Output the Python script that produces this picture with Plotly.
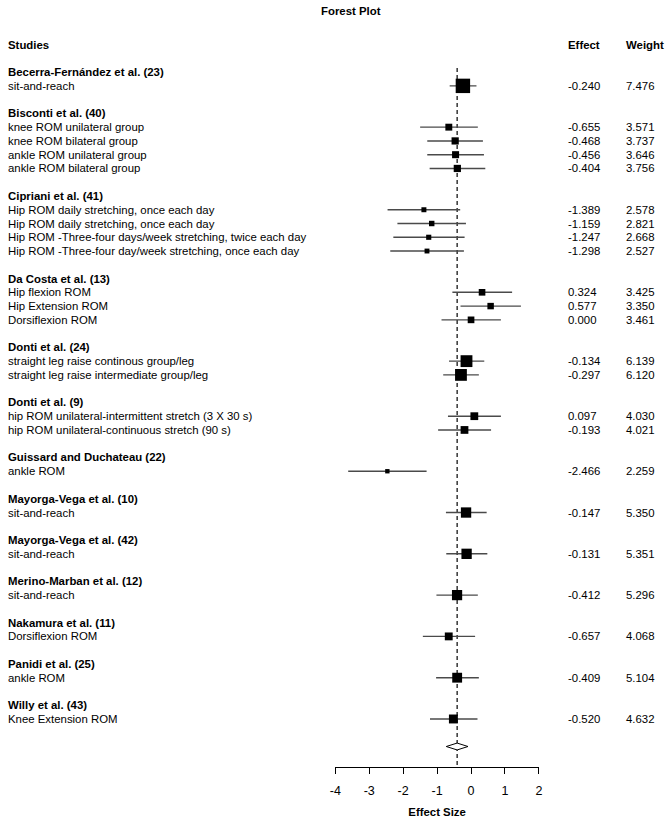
import plotly.graph_objects as go

# ---------------- data ----------------
studies = [
    "Becerra-Fernández et al. (23)", "Bisconti et al. (40)", "Cipriani et al. (41)",
    "Da Costa et al. (13)", "Donti et al. (24)", "Donti et al. (9)",
    "Guissard and Duchateau (22)", "Mayorga-Vega et al. (10)", "Mayorga-Vega et al. (42)",
    "Merino-Marban et al. (12)", "Nakamura et al. (11)", "Panidi et al. (25)", "Willy et al. (43)",
]
outcomes = [
    "sit-and-reach",
    "knee ROM unilateral group", "knee ROM bilateral group",
    "ankle ROM unilateral group", "ankle ROM bilateral group",
    "Hip ROM daily stretching, once each day", "Hip ROM daily stretching, once each day",
    "Hip ROM -Three-four days/week stretching, twice each day",
    "Hip ROM -Three-four day/week stretching, once each day",
    "Hip flexion ROM", "Hip Extension ROM", "Dorsiflexion ROM",
    "straight leg raise continous group/leg", "straight leg raise intermediate group/leg",
    "hip ROM unilateral-intermittent stretch (3 X 30 s)", "hip ROM unilateral-continuous stretch (90 s)",
    "ankle ROM", "sit-and-reach", "sit-and-reach", "sit-and-reach",
    "Dorsiflexion ROM", "ankle ROM", "Knee Extension ROM",
]
outcome_study = [0, 1, 1, 1, 1, 2, 2, 2, 2, 3, 3, 3, 4, 4, 5, 5, 6, 7, 8, 9, 10, 11, 12]
effects = [-0.240, -0.655, -0.468, -0.456, -0.404, -1.389, -1.159, -1.247, -1.298,
           0.324, 0.577, 0.000, -0.134, -0.297, 0.097, -0.193, -2.466, -0.147, -0.131,
           -0.412, -0.657, -0.409, -0.520]
lower = [-0.63, -1.50, -1.29, -1.29, -1.22, -2.46, -2.17, -2.29, -2.38,
         -0.55, -0.31, -0.87, -0.65, -0.82, -0.68, -0.97, -3.62, -0.74, -0.73,
         -1.02, -1.42, -1.03, -1.21]
upper = [0.16, 0.20, 0.35, 0.38, 0.42, -0.32, -0.15, -0.19, -0.21,
         1.21, 1.47, 0.88, 0.39, 0.23, 0.88, 0.59, -1.31, 0.46, 0.48,
         0.20, 0.12, 0.23, 0.19]
weights = [7.476, 3.571, 3.737, 3.646, 3.756, 2.578, 2.821, 2.668, 2.527,
           3.425, 3.350, 3.461, 6.139, 6.120, 4.030, 4.021, 2.259, 5.350, 5.351,
           5.296, 4.068, 5.104, 4.632]
summary_effect = -0.41
summary_lower = -0.73
summary_upper = -0.09
x_ticks = [-4, -3, -2, -1, 0, 1, 2]

# ---------------- layout of rows ----------------
header_rows = []
outcome_rows = []
r = 0
for si in range(len(studies)):
    header_rows.append(r)
    r += 1
    for oi, s in enumerate(outcome_study):
        if s == si:
            outcome_rows.append(r)
            r += 1
    r += 1
summary_row = r
axis_row = summary_row + 1.5

W, H = 669, 818
ROW0_PX, ROW_PX = 72.2, 13.78
y_top = -ROW0_PX / ROW_PX
y_bot = (H - ROW0_PX) / ROW_PX
axis_pos = 1 - (ROW0_PX + ROW_PX * axis_row) / H

FONT = "Liberation Sans, Arial, sans-serif"
FS = 11.4
TXT = "#000000"

fig = go.Figure()

# CI lines
ci_x, ci_y = [], []
for l, u, yy in zip(lower, upper, outcome_rows):
    ci_x += [l, u, None]
    ci_y += [yy, yy, None]
fig.add_trace(go.Scatter(
    x=ci_x, y=ci_y, mode="lines", line=dict(color="#4a4a4a", width=1.4),
    hoverinfo="skip", showlegend=False, cliponaxis=False,
))

# squares
fig.add_trace(go.Scatter(
    x=effects, y=outcome_rows, mode="markers",
    marker=dict(symbol="square", color="black", size=[w * 1.93 for w in weights],
                line=dict(width=0), opacity=1),
    hoverinfo="skip", cliponaxis=False, showlegend=False,
))

# summary diamond
dh = 0.25
fig.add_trace(go.Scatter(
    x=[summary_lower, summary_effect, summary_upper, summary_effect, summary_lower],
    y=[summary_row, summary_row - dh, summary_row, summary_row + dh, summary_row],
    mode="lines", fill="toself", fillcolor="white",
    line=dict(color="black", width=1), hoverinfo="skip", showlegend=False,
))

# dashed line at summary effect
fig.add_shape(type="line", xref="x", yref="y",
              x0=summary_effect, x1=summary_effect, y0=-0.3, y1=axis_row,
              line=dict(color="black", width=1.2, dash="4px,3px"), layer="below")

ann = []
def text(x, y, t, bold=False, anchor="left", yref="y", size=FS):
    ann.append(dict(x=x, y=y, xref="paper", yref=yref, text=f"<b>{t}</b>" if bold else t,
                    showarrow=False, xanchor=anchor, yanchor="middle",
                    font=dict(family=FONT, size=size, color=TXT)))

X_LBL = 0.0
X_EFF = 568.0 / W
X_WGT = 627.5 / W

text(350.4 / W, 1 - 11.5 / H, "Forest Plot", bold=True, anchor="center", yref="paper")
text(X_LBL, -2, "Studies", bold=True)
text(X_EFF, -2, "Effect", bold=True)
text(X_WGT, -2, "Weight", bold=True)
for si, name in enumerate(studies):
    text(X_LBL, header_rows[si], name, bold=True)
for i, o in enumerate(outcomes):
    text(X_LBL, outcome_rows[i], o)
    text(X_EFF, outcome_rows[i], f"{effects[i]:.3f}")
    text(X_WGT, outcome_rows[i], f"{weights[i]:.3f}")

fig.update_layout(
    width=W, height=H, margin=dict(l=0, r=0, t=0, b=0),
    paper_bgcolor="white", plot_bgcolor="white",
    font=dict(family=FONT, size=FS, color=TXT),
    annotations=ann,
    xaxis=dict(domain=[334.3 / W, 541 / W], range=[-4, 2], anchor="free", position=axis_pos,
               tickmode="array", tickvals=x_ticks, ticktext=[str(t) for t in x_ticks],
               showline=True, linecolor="black", linewidth=1,
               ticks="outside", ticklen=6, tickcolor="black", tickwidth=1,
               ticklabelstandoff=6,
               showgrid=False, zeroline=False,
               tickfont=dict(family=FONT, size=12.5, color=TXT),
               title=dict(text="<b>Effect Size</b>", font=dict(family=FONT, size=FS, color=TXT),
                          standoff=12)),
    yaxis=dict(range=[y_bot, y_top], visible=False, domain=[0, 1]),
)

fig.write_html("out.html")
